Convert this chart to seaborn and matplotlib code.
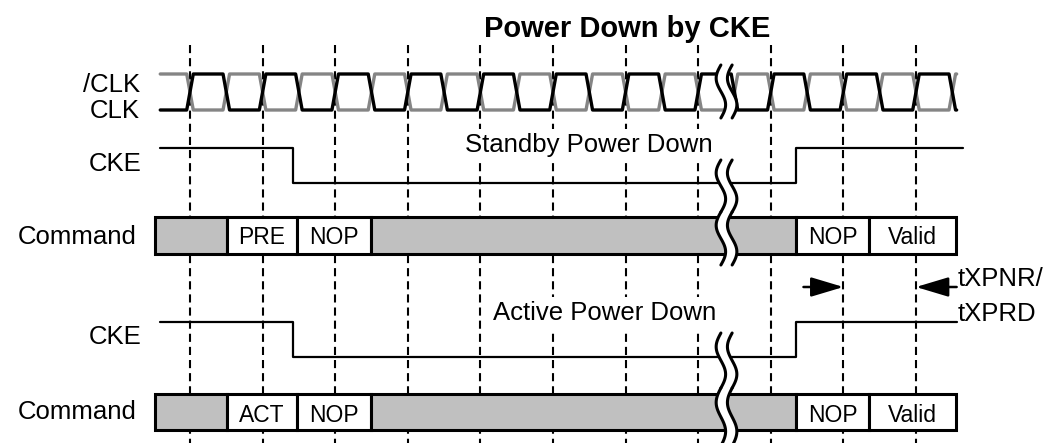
import numpy as np
import matplotlib
matplotlib.use("Agg")
import matplotlib.pyplot as plt
import seaborn as sns

# --- timing data (x in clock cycles, CLK rises at each edge) ---
clk_edges = [0, 1, 2, 3, 4, 5, 6, 7, 8, 9, 10]
clk_start, clk_end = -0.41, 10.56

# CKE levels: 1 = high, 0 = low
cke_standby_t = [-0.41, 1.42, 1.42, 8.35, 8.35, 10.65]
cke_standby_v = [1, 1, 0, 0, 1, 1]
cke_active_t = [-0.41, 1.42, 1.42, 8.35, 8.35, 10.56]
cke_active_v = [1, 1, 0, 0, 1, 1]

# command bus segments (boundaries in cycles), "" = don't care (grey)
cmd_bounds = [-0.48, 0.51, 1.47, 2.49, 8.35, 9.35, 10.55]
cmd_standby = ["", "PRE", "NOP", "", "NOP", "Valid"]
cmd_active = ["", "ACT", "NOP", "", "NOP", "Valid"]

# tXPNR / tXPRD arrows: start -> tip
txp_from = [8.45, 10.56]
txp_to = [9.0, 10.0]

break_at = 7.39

# --- layout (pixel rows, y axis inverted) ---
PX0, PERIOD = 190.0, 72.6
CLK_HI, CLK_LO = 74, 110
CKE1_HI, CKE1_LO = 148, 183
CMD1_Y, CMD1_H = 235, 37
CKE2_HI, CKE2_LO = 322, 357
CMD2_Y, CMD2_H = 412, 36
GREY = "#c0c0c0"
CLKGREY = "#858585"


def px(x):
    return (x - PX0) / PERIOD


def clock_wave(edges, start, end, d=0.045):
    t, v = [], []
    for k in edges:
        t += [k - d, k + d, k + 0.5 - d, k + 0.5 + d]
        v += [0, 1, 1, 0]
    t = np.array(t)
    v = np.array(v, dtype=float)
    keep = (t > start) & (t < end)
    tt = np.concatenate([[start], t[keep], [end]])
    vv = np.concatenate([[np.interp(start, t, v, left=0)], v[keep], [np.interp(end, t, v)]])
    return tt, vv


def draw_break(ax, t0, y_top, y_bot):
    s = np.linspace(0, 1, 80)
    y = y_top + s * (y_bot - y_top)
    amp, gap = 0.065, 0.155
    xl = t0 - gap / 2 - amp * np.sin(2 * np.pi * s)
    xr = xl + gap
    ax.fill_betweenx(y, xl, xr, color="white", zorder=8, lw=0)
    ax.plot(xl, y, color="black", lw=2.2, zorder=9, solid_capstyle="round")
    ax.plot(xr, y, color="black", lw=2.2, zorder=9, solid_capstyle="round")


sns.set_style("white")
plt.rcParams["font.family"] = ["Liberation Sans", "DejaVu Sans"]
plt.rcParams["text.color"] = "black"

fig = plt.figure(figsize=(10.47, 4.43), dpi=100)
ax = fig.add_axes([0, 0, 1, 1])
ax.set_xlim(px(0), px(1047))
ax.set_ylim(443, 0)
ax.axis("off")

# dashed clock reference lines
ax.vlines(clk_edges, 45, 443, colors="black", linestyles=(0, (3.9, 2.4)), linewidth=1.5, zorder=1)

# clock pair (/CLK grey, CLK black)
t, v = clock_wave(clk_edges, clk_start, clk_end)
sns.lineplot(x=t, y=CLK_LO - (1 - v) * (CLK_LO - CLK_HI), ax=ax, sort=False, estimator=None,
             color=CLKGREY, linewidth=2.4, zorder=2)
sns.lineplot(x=t, y=CLK_LO - v * (CLK_LO - CLK_HI), ax=ax, sort=False, estimator=None,
             color="black", linewidth=2.4, zorder=3)

# CKE waveforms
for ts, vs, hi, lo in [(cke_standby_t, cke_standby_v, CKE1_HI, CKE1_LO),
                       (cke_active_t, cke_active_v, CKE2_HI, CKE2_LO)]:
    ys = [lo - lv * (lo - hi) for lv in vs]
    sns.lineplot(x=ts, y=ys, ax=ax, sort=False, estimator=None, color="black", linewidth=1.6, zorder=3)

# command buses
widths = np.diff(cmd_bounds)
mids = np.array(cmd_bounds[:-1]) + widths / 2
for labels, yc, h, base in [(cmd_standby, CMD1_Y, CMD1_H, 244), (cmd_active, CMD2_Y, CMD2_H, 422)]:
    colors = [GREY if lbl == "" else "white" for lbl in labels]
    ax.barh(y=[yc] * len(labels), width=widths, left=cmd_bounds[:-1], height=h,
            color=colors, edgecolor="black", linewidth=2.2, zorder=4)
    for m, lbl in zip(mids, labels):
        if lbl:
            ax.text(m, base, lbl, ha="center", va="baseline", fontsize=16.5, zorder=5)

# break marks
draw_break(ax, break_at, 65, 118)
draw_break(ax, break_at, 160, 212)
draw_break(ax, break_at, 212, 265)
draw_break(ax, break_at, 333, 388)
draw_break(ax, break_at, 388, 446)

# arrows
for a, b in zip(txp_from, txp_to):
    ax.annotate("", xy=(b, 287), xytext=(a, 287), zorder=6,
                arrowprops=dict(arrowstyle="-|>,head_length=1.0,head_width=0.3", mutation_scale=20,
                                color="black", lw=1.8, shrinkA=0, shrinkB=0))

# texts
ax.text(px(627), 37, "Power Down by CKE", ha="center", va="baseline", fontsize=21, fontweight="bold")
for lbl, x, yb in [("/CLK", 140, 92), ("CLK", 140, 118), ("CKE", 141, 171), ("Command", 137, 244),
                   ("CKE", 141, 344), ("Command", 137, 419)]:
    ax.text(px(x), yb, lbl, ha="right", va="baseline", fontsize=18.5)
ax.text(px(589), 152, "Standby Power Down", ha="center", va="baseline", fontsize=18.5, zorder=5,
        bbox=dict(facecolor="white", edgecolor="none", pad=3))
ax.text(px(605), 320, "Active Power Down", ha="center", va="baseline", fontsize=18.5, zorder=5,
        bbox=dict(facecolor="white", edgecolor="none", pad=3))
ax.text(px(958), 286, "tXPNR/", ha="left", va="baseline", fontsize=18.5)
ax.text(px(958), 321, "tXPRD", ha="left", va="baseline", fontsize=18.5)

fig.savefig("out.png", dpi=100)
